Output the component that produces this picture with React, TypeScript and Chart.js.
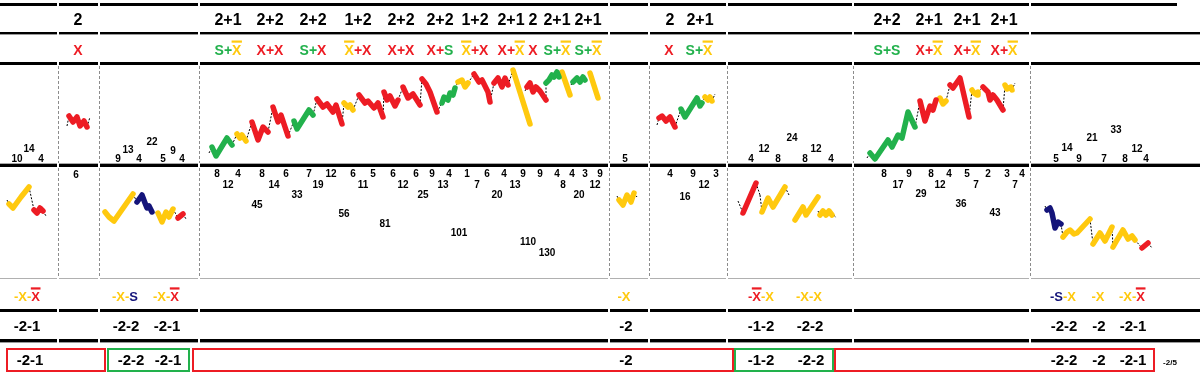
import React, { useEffect, useRef } from 'react';
import { Chart, registerables } from 'chart.js';
Chart.register(...registerables);

type Pt = [number, number];
type Piece = { c: string; p: Pt[] };

// ---- table columns (x units) ----
const columnEdges = [58, 99, 199, 609, 649, 727, 853, 1030];

// ---- row 1: pattern headers ----
const headerX = [78, 228, 270, 313, 358, 401, 440, 475, 511, 533, 557, 588, 670, 700, 887, 929, 967, 1004];
const headerText = ['2', '2+1', '2+2', '2+2', '1+2', '2+2', '2+2', '1+2', '2+1', '2', '2+1', '2+1', '2', '2+1', '2+2', '2+1', '2+1', '2+1'];

// ---- row 2: entry signals (colour:text, ^ = barred) ----
const signalText = ['r:X', 'g:S+|y:^X', 'r:X+X', 'g:S+|r:X', 'y:^X|r:+X', 'r:X+X', 'r:X+|g:S', 'y:^X|r:+X', 'r:X+|y:^X', 'r:X', 'g:S+|y:^X', 'g:S+|y:^X', 'r:X', 'g:S+|y:^X', 'g:S+S', 'r:X+|y:^X', 'r:X+|y:^X', 'r:X+|y:^X'];
const signalX = [78, 228, 270, 313, 358, 401, 440, 475, 511, 533, 557, 588, 669, 699, 887, 929, 967, 1004];

// ---- row 5: exit signals ----
const exitX = [27, 125, 166, 624, 761, 809, 1063, 1098, 1132];
const exitText = ['y:-X-|r:^X', 'y:-X-|n:S', 'y:-X-|r:^X', 'y:-X', 'r:-|r:^X|y:-X', 'y:-X-X', 'n:-S|y:-X', 'y:-X', 'y:-X-|r:^X'];

// ---- row 6: results ----
const resultX = [27, 126, 167, 626, 761, 810, 1064, 1099, 1133];
const resultText = ['-2-1', '-2-2', '-2-1', '-2', '-1-2', '-2-2', '-2-2', '-2', '-2-1'];

// ---- row 7: summary boxes ----
const summaryX = [30, 131, 168, 626, 761, 811, 1064, 1099, 1133];
const summaryText = ['-2-1', '-2-2', '-2-1', '-2', '-1-2', '-2-2', '-2-2', '-2', '-2-1'];
const boxStart = [6, 107, 192, 734, 834];
const boxEnd = [106, 190, 734, 834, 1155];
const boxKind = ['r', 'g', 'r', 'g', 'r'];
const scoreText = '-2/5';
const scoreX = 1170;

// ---- small count labels ----
const numX = [17, 29, 41, 76, 118, 128, 139, 152, 163, 173, 182,
  217, 238, 262, 286, 309, 331, 353, 373, 393, 416, 432, 449, 467, 487, 504, 523, 540, 557, 572, 585, 600,
  228, 274, 318, 363, 403, 443, 477, 515, 563, 595,
  297, 423, 497, 579, 257, 344, 385, 459, 528, 547,
  625, 670, 693, 716, 704, 685,
  751, 764, 778, 792, 805, 816, 831,
  884, 909, 931, 949, 967, 988, 1007, 1022, 898, 940, 976, 1015, 921, 961, 995,
  1056, 1067, 1079, 1092, 1104, 1116, 1125, 1137, 1146];
const numY = [158, 148, 158, 174, 158, 149, 158, 141, 158, 150, 158,
  173, 173, 173, 173, 173, 173, 173, 173, 173, 173, 173, 173, 173, 173, 173, 173, 173, 173, 173, 173, 173,
  184, 184, 184, 184, 184, 184, 184, 184, 184, 184,
  194, 194, 194, 194, 204, 213, 223, 232, 241, 252,
  158, 173, 173, 173, 184, 196,
  158, 148, 158, 137, 158, 148, 158,
  173, 173, 173, 173, 173, 173, 173, 173, 184, 184, 184, 184, 193, 203, 212,
  158, 147, 158, 137, 158, 129, 158, 148, 158];
const numLabel = ['10', '14', '4', '6', '9', '13', '4', '22', '5', '9', '4',
  '8', '4', '8', '6', '7', '12', '6', '5', '6', '6', '9', '4', '1', '6', '4', '9', '9', '4', '4', '3', '9',
  '12', '14', '19', '11', '12', '13', '7', '13', '8', '12',
  '33', '25', '20', '20', '45', '56', '81', '101', '110', '130',
  '5', '4', '9', '3', '12', '16',
  '4', '12', '8', '24', '8', '12', '4',
  '8', '9', '8', '4', '5', '2', '3', '4', '17', '12', '7', '7', '29', '36', '43',
  '5', '14', '9', '21', '7', '33', '8', '12', '4'];

// ---- swing paths (x = bar, y = level row) ----
const chainA: Piece[] = [
  { c: 'k', p: [[7, 200], [9, 204]] },
  { c: 'y', p: [[9, 204], [13, 208], [21, 197], [29, 187]] },
  { c: 'r', p: [[34, 210], [37, 213], [40, 208], [43, 211]] },
  { c: 'k', p: [[43, 211], [46, 216]] },
];
const chainB: Piece[] = [
  { c: 'k', p: [[67, 126], [69, 116]] },
  { c: 'r', p: [[69, 116], [73, 122], [77, 117], [80, 126], [84, 121], [87, 127]] },
  { c: 'k', p: [[87, 127], [90, 117]] },
];
const chainC: Piece[] = [
  { c: 'y', p: [[105, 212], [109, 217], [114, 221], [133, 194]] },
  { c: 'n', p: [[137, 202], [142, 195], [145, 203], [147, 208], [149, 206], [152, 212]] },
  { c: 'y', p: [[158, 213], [162, 222], [166, 212], [169, 217], [173, 209]] },
  { c: 'r', p: [[178, 218], [183, 214]] },
  { c: 'k', p: [[183, 214], [186, 219]] },
];
const chainD1: Piece[] = [
  { c: 'k', p: [[209, 153], [212, 147]] },
  { c: 'g', p: [[212, 147], [216, 156], [227, 138], [232, 145]] },
  { c: 'y', p: [[237, 134], [240, 138], [242, 135], [246, 141]] },
  { c: 'r', p: [[252, 122], [258, 140], [263, 127], [268, 132]] },
  { c: 'r', p: [[273, 107], [278, 122], [281, 115], [288, 136]] },
  { c: 'g', p: [[294, 121], [297, 129], [309, 110], [313, 115]] },
  { c: 'r', p: [[317, 99], [323, 107], [327, 104], [333, 112], [336, 105], [342, 124]] },
  { c: 'y', p: [[344, 103], [348, 107], [350, 105], [353, 110]] },
  { c: 'r', p: [[359, 95], [365, 103], [368, 101], [374, 108], [378, 103], [383, 117]] },
  { c: 'r', p: [[384, 92], [387, 100], [390, 96], [395, 106], [398, 100]] },
  { c: 'r', p: [[403, 87], [408, 98], [413, 94], [420, 105]] },
  { c: 'r', p: [[422, 79], [426, 84], [430, 92], [437, 112]] },
  { c: 'g', p: [[442, 103], [444, 97], [448, 100], [450, 93], [453, 95], [455, 88]] },
  { c: 'y', p: [[458, 82], [462, 80], [465, 87], [468, 83]] },
  { c: 'r', p: [[474, 74], [479, 82], [482, 80], [488, 92], [490, 102]] },
  { c: 'r', p: [[494, 83], [498, 78], [502, 87], [505, 78], [508, 85]] },
  { c: 'y', p: [[513, 70], [530, 124]] },
];
const chainD2: Piece[] = [
  { c: 'k', p: [[525, 91], [527, 87]] },
  { c: 'r', p: [[527, 87], [530, 83], [533, 92], [536, 87], [540, 91], [546, 100]] },
  { c: 'g', p: [[546, 83], [549, 80], [552, 75], [554, 77], [557, 72], [559, 77]] },
];
const chainD3: Piece[] = [{ c: 'y', p: [[562, 72], [570, 95]] }];
const chainD4: Piece[] = [
  { c: 'k', p: [[571, 85], [573, 82]] },
  { c: 'g', p: [[573, 82], [577, 78], [580, 82], [583, 77], [585, 80]] },
];
const chainD5: Piece[] = [{ c: 'y', p: [[590, 73], [598, 98]] }];
const chainE: Piece[] = [
  { c: 'k', p: [[617, 196], [619, 200]] },
  { c: 'y', p: [[619, 200], [623, 205], [627, 195], [631, 202], [634, 193]] },
  { c: 'k', p: [[634, 193], [637, 197]] },
];
const chainF: Piece[] = [
  { c: 'k', p: [[657, 125], [659, 118]] },
  { c: 'r', p: [[659, 118], [662, 116], [666, 121], [670, 117], [675, 127]] },
  { c: 'g', p: [[681, 109], [685, 117], [697, 98], [700, 106], [702, 103]] },
  { c: 'y', p: [[705, 97], [708, 100], [710, 97], [712, 101]] },
  { c: 'k', p: [[712, 101], [715, 94]] },
];
const chainG1: Piece[] = [
  { c: 'k', p: [[738, 201], [743, 213]] },
  { c: 'r', p: [[743, 213], [756, 183]] },
  { c: 'k', p: [[756, 183], [760, 195]] },
  { c: 'y', p: [[762, 212], [768, 198], [773, 207], [785, 187]] },
  { c: 'k', p: [[785, 187], [789, 195]] },
];
const chainG2: Piece[] = [{ c: 'y', p: [[795, 220], [803, 207], [806, 215], [818, 197]] }];
const chainG3: Piece[] = [
  { c: 'k', p: [[818, 211], [820, 215]] },
  { c: 'y', p: [[820, 215], [823, 211], [826, 215], [829, 211], [832, 215]] },
  { c: 'k', p: [[832, 212], [836, 218]] },
];
const chainH: Piece[] = [
  { c: 'k', p: [[867, 158], [870, 153]] },
  { c: 'g', p: [[870, 153], [875, 159], [888, 140], [892, 147], [898, 135], [902, 138], [908, 112], [915, 127]] },
  { c: 'r', p: [[920, 101], [925, 121], [930, 106], [933, 110], [936, 100]] },
  { c: 'y', p: [[940, 98], [943, 104], [946, 101]] },
  { c: 'r', p: [[950, 85], [953, 88], [960, 78], [969, 117]] },
  { c: 'y', p: [[972, 90], [974, 93], [977, 95], [978, 92]] },
  { c: 'r', p: [[983, 87], [988, 92], [990, 100], [993, 95], [997, 100], [1003, 110]] },
  { c: 'y', p: [[1005, 85], [1007, 89], [1011, 87], [1012, 90]] },
  { c: 'k', p: [[1012, 90], [1015, 83]] },
];
const chainI: Piece[] = [
  { c: 'k', p: [[1045, 206], [1047, 210]] },
  { c: 'n', p: [[1047, 210], [1050, 208], [1052, 213], [1055, 228], [1058, 222], [1061, 224]] },
  { c: 'y', p: [[1063, 237], [1067, 232], [1070, 230], [1074, 234], [1077, 233], [1090, 219]] },
  { c: 'y', p: [[1093, 244], [1100, 233], [1105, 241], [1112, 227]] },
  { c: 'y', p: [[1113, 247], [1117, 240], [1123, 230], [1128, 239], [1132, 236], [1135, 240]] },
  { c: 'r', p: [[1142, 248], [1148, 243]] },
  { c: 'k', p: [[1148, 243], [1152, 248]] },
];
const chains = [chainA, chainB, chainC, chainD1, chainD2, chainD3, chainD4, chainD5, chainE, chainF, chainG1, chainG2, chainG3, chainH, chainI];

const COL: Record<string, string> = { r: '#ED1C24', g: '#22B14C', y: '#FFC90E', n: '#14147A', k: '#000000' };
const FONT = "'Liberation Sans', Arial, sans-serif";

function drawSegmented(ctx: CanvasRenderingContext2D, spec: string, cx: number, cy: number, size: number) {
  ctx.font = `bold ${size}px ${FONT}`;
  const segs = spec.split('|').map((s) => {
    const k = s[0];
    let t = s.slice(2);
    const bar = t.startsWith('^');
    if (bar) t = t.slice(1);
    return { k, t, bar };
  });
  const widths = segs.map((s) => ctx.measureText(s.t).width);
  const total = widths.reduce((a, b) => a + b, 0);
  const cap = size * 0.716;
  let x = cx - total / 2;
  ctx.textAlign = 'left';
  ctx.textBaseline = 'alphabetic';
  segs.forEach((s, i) => {
    ctx.fillStyle = COL[s.k];
    ctx.fillText(s.t, x, cy + cap / 2);
    if (s.bar) ctx.fillRect(x - 0.5, cy - cap / 2 - 4, widths[i] + 1, 2.2);
    x += widths[i];
  });
}

function drawCentered(ctx: CanvasRenderingContext2D, t: string, cx: number, cy: number, size: number, color = '#000') {
  ctx.font = `bold ${size}px ${FONT}`;
  ctx.fillStyle = color;
  ctx.textAlign = 'center';
  ctx.textBaseline = 'alphabetic';
  ctx.fillText(t, cx, cy + (size * 0.716) / 2);
}

const tablePlugin = {
  id: 'swingTable',
  beforeDatasetsDraw(chart: any) {
    const { ctx } = chart;
    const X = (v: number) => chart.scales.x.getPixelForValue(v);
    const Y = (v: number) => chart.scales.y.getPixelForValue(v);
    ctx.save();
    ctx.fillStyle = '#fff';
    ctx.fillRect(0, 0, chart.width, chart.height);
    // dotted column separators
    ctx.strokeStyle = '#8c8c8c';
    ctx.lineWidth = 1;
    ctx.setLineDash([3, 2]);
    columnEdges.forEach((e) => {
      const px = Math.round(X(e)) + 0.5;
      ctx.beginPath();
      ctx.moveTo(px, Y(66));
      ctx.lineTo(px, Y(163));
      ctx.moveTo(px, Y(168));
      ctx.lineTo(px, Y(278));
      ctx.stroke();
    });
    ctx.setLineDash([]);
    // horizontal rules, broken at column edges
    const rules: [number, number, string, number][] = [
      [3, 3, '#000', 1177], [32, 2, '#000', 1200], [34, 1, '#9a9a9a', 1200], [62, 3, '#000', 1200],
      [163, 1, '#a8a8a8', 1200], [164, 3, '#000', 1200], [278, 1, '#b0b0b0', 1200],
      [309, 3, '#000', 1200], [339, 3, '#000', 1200], [342, 1, '#9a9a9a', 1200],
    ];
    rules.forEach(([y, h, c, end]) => {
      ctx.fillStyle = c;
      const stops = [0, ...columnEdges, end];
      for (let i = 0; i < stops.length - 1; i++) {
        const a = X(stops[i]) + (i > 0 ? 1 : 0);
        const b = X(stops[i + 1]) - (i < stops.length - 2 ? 1 : 0);
        ctx.fillRect(a, Y(y), b - a, h);
      }
    });
    // summary boxes
    ctx.lineWidth = 2;
    boxStart.forEach((s, i) => {
      ctx.strokeStyle = COL[boxKind[i]];
      ctx.strokeRect(X(s) + 1, Y(349), X(boxEnd[i]) - X(s) - 2, 22);
    });
    ctx.restore();
  },
  afterDatasetsDraw(chart: any) {
    const { ctx } = chart;
    const X = (v: number) => chart.scales.x.getPixelForValue(v);
    const Y = (v: number) => chart.scales.y.getPixelForValue(v);
    ctx.save();
    headerText.forEach((t, i) => drawCentered(ctx, t, X(headerX[i]), Y(19.5), 16));
    signalText.forEach((t, i) => drawSegmented(ctx, t, X(signalX[i]), Y(49.5), 14));
    numLabel.forEach((t, i) => drawCentered(ctx, t, X(numX[i]), Y(numY[i]), 10));
    exitText.forEach((t, i) => drawSegmented(ctx, t, X(exitX[i]), Y(296), 13));
    resultText.forEach((t, i) => drawCentered(ctx, t, X(resultX[i]), Y(326), 15));
    summaryText.forEach((t, i) => drawCentered(ctx, t, X(summaryX[i]), Y(360), 15));
    drawCentered(ctx, scoreText, X(scoreX), Y(362), 8);
    ctx.restore();
  },
};

function buildDatasets() {
  const out: any[] = [];
  const thin = (pts: Pt[]) => ({
    data: pts.map(([x, y]) => ({ x, y })),
    borderColor: '#000',
    borderWidth: 1,
    borderDash: [2, 1.5],
    pointRadius: 0,
    fill: false,
    tension: 0,
    order: 2,
  });
  chains.forEach((chain) => {
    chain.forEach((pc, i) => {
      if (i > 0) {
        const prev = chain[i - 1].p[chain[i - 1].p.length - 1];
        const cur = pc.p[0];
        if (prev[0] !== cur[0] || prev[1] !== cur[1]) out.push(thin([prev, cur]));
      }
      if (pc.c === 'k') out.push(thin(pc.p));
      else
        out.push({
          data: pc.p.map(([x, y]) => ({ x, y })),
          borderColor: COL[pc.c],
          borderWidth: 5.5,
          borderCapStyle: 'round',
          borderJoinStyle: 'round',
          pointRadius: 0,
          fill: false,
          tension: 0,
          order: 1,
        });
    });
  });
  return out;
}

export default function App() {
  const ref = useRef<HTMLCanvasElement>(null);
  useEffect(() => {
    document.body.style.margin = '0';
    const chart = new Chart(ref.current as HTMLCanvasElement, {
      type: 'line',
      data: { datasets: buildDatasets() },
      options: {
        animation: false,
        responsive: false,
        devicePixelRatio: 1,
        layout: { padding: 0 },
        plugins: { legend: { display: false }, tooltip: { enabled: false } },
        events: [],
        scales: {
          x: { type: 'linear', min: 0, max: 1200, display: false },
          y: { type: 'linear', min: 0, max: 376, reverse: true, display: false },
        },
      },
      plugins: [tablePlugin],
    } as any);
    return () => chart.destroy();
  }, []);
  return <canvas ref={ref} width={1200} height={376} style={{ display: 'block' }} />;
}
